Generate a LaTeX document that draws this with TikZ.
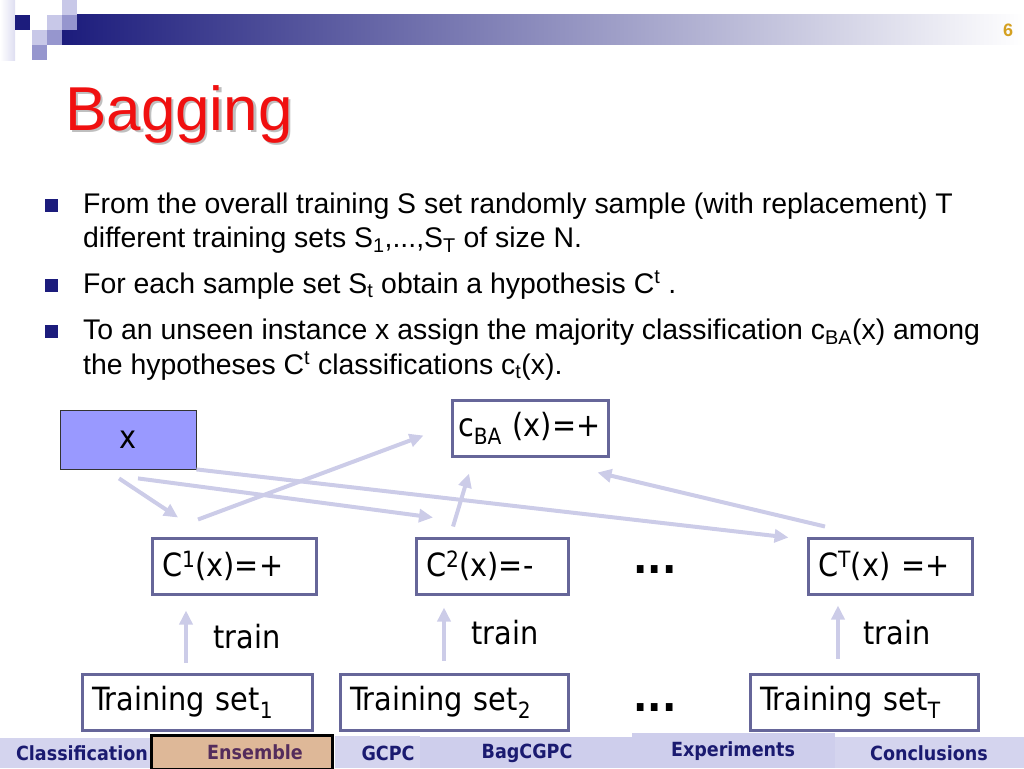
\documentclass[tikz,border=0pt]{standalone}
\usepackage{fontspec}
\setmainfont{Liberation Sans}
\newfontfamily\tahoma{DejaVu Sans Condensed}
\usetikzlibrary{arrows.meta}
\definecolor{topnavy}{RGB}{28,28,124}
\definecolor{sqlight}{RGB}{200,200,232}
\definecolor{sqmid}{RGB}{150,150,206}
\definecolor{titlered}{RGB}{240,16,16}
\definecolor{boxline}{RGB}{102,102,153}
\definecolor{xfill}{RGB}{153,153,255}
\definecolor{arrowcol}{RGB}{204,204,232}
\definecolor{navtext}{RGB}{26,26,112}
\definecolor{navbg}{RGB}{212,212,238}
\definecolor{navbgB}{RGB}{206,206,236}
\definecolor{enscol}{RGB}{222,184,152}
\definecolor{enstext}{RGB}{84,44,92}
\definecolor{pagecol}{RGB}{212,160,32}
\tikzset{
  body/.style={font=\fontsize{28.4}{32}\selectfont,anchor=base west,inner sep=0pt},
  res/.style={draw=boxline,line width=3pt,fill=white,minimum height=56pt,inner xsep=10pt,inner ysep=0pt,align=left,font=\tahoma\fontsize{32}{36}\selectfont},
  xin/.style={draw=black!80,line width=0.8pt,fill=xfill,minimum width=136pt,minimum height=59pt,font=\tahoma\fontsize{32}{36}\selectfont},
  lbl/.style={font=\tahoma\fontsize{32}{36}\selectfont,inner sep=0pt},
  dots/.style={font=\tahoma\bfseries\fontsize{42}{42}\selectfont,inner sep=0pt},
  vote/.style={draw=arrowcol,line width=4pt,-{Triangle[length=14pt,width=13pt]}},
  tab/.style={font=\tahoma\bfseries\fontsize{19.5}{22}\selectfont,text=navtext,inner sep=0pt},
  bul/.style={fill=topnavy,minimum size=13pt,inner sep=0pt},
}
\begin{document}
\begin{tikzpicture}[x=1pt,y=-1pt]
  \useasboundingbox (0,0) rectangle (1024,768);
  \shade[left color=white,right color=sqlight!60] (0,0) rectangle (15,60);
  \shade[left color=topnavy,right color=white] (62,15) rectangle (1024,45);
  \fill[sqlight] (62,0) rectangle (77,15);
  \fill[topnavy] (15,15) rectangle (30,30);
  \fill[sqlight] (47,15) rectangle (62,30);
  \fill[sqmid] (62,15) rectangle (77,30);
  \fill[sqlight] (32,30) rectangle (47,45);
  \fill[sqmid] (47,30) rectangle (62,45);
  \fill[sqmid] (32,45) rectangle (47,60);
  \node[font=\bfseries\fontsize{18}{20}\selectfont,text=pagecol] (pgno) at (1008,30) {6};
  \node[font=\fontsize{62}{66}\selectfont,text=gray!50,anchor=base west,inner sep=0pt] (titleshadow) at (67.5,132.5) {Bagging};
  \node[font=\fontsize{62}{66}\selectfont,text=titlered,anchor=base west,inner sep=0pt] (title) at (65,130) {Bagging};
  \node[bul] (b1) at (51,205) {};
  \node[bul] (b2) at (51,285) {};
  \node[bul] (b3) at (51,331) {};
  \node[body] (l1) at (83,213) {From the overall training S set randomly sample (with replacement) T};
  \node[body] (l2) at (83,247) {different training sets S\textsubscript{1},...,S\textsubscript{T} of size N.};
  \node[body] (l3) at (83,293) {For each sample set S\textsubscript{t} obtain a hypothesis C\textsuperscript{t} .};
  \node[body] (l4) at (83,339) {To an unseen instance x assign the majority classification c\textsubscript{BA}(x) among};
  \node[body] (l5) at (83,374) {the hypotheses C\textsuperscript{t} classifications c\textsubscript{t}(x).};
  \node[xin] (xbox) at (128,439.5) {x};
  \node[res,text width=144pt,inner xsep=6pt] (cba) at (530,428) {c\textsubscript{BA} (x)=+};
  \node[res,text width=144pt] (c1) at (234,566) {C\textsuperscript{1}(x)=+};
  \node[res,text width=132pt] (c2) at (492,566) {C\textsuperscript{2}(x)=-};
  \node[res,text width=144pt] (cT) at (890,566) {C\textsuperscript{T}(x) =+};
  \node[dots] (dotsC) at (655,570) {...};
  \node[res,text width=210pt] (ts1) at (197,702) {Training set\textsubscript{1}};
  \node[res,text width=208pt] (ts2) at (454,702) {Training set\textsubscript{2}};
  \node[res,text width=208pt] (tsT) at (864,702) {Training set\textsubscript{T}};
  \node[dots] (dotsT) at (655,708) {...};
  \node[lbl] (tr1) at (247,637) {train};
  \node[lbl] (tr2) at (505,633) {train};
  \node[lbl] (trT) at (897,633) {train};
  \draw[vote] ([shift={(-9,9)}]xbox.south) -- ([shift={(-56,-19)}]c1.north);
  \draw[vote] ([shift={(10,9)}]xbox.south) -- ([shift={(-59,-19)}]c2.north);
  \draw[vote] (xbox.south east) -- ([shift={(-18,1)}]cT.north west);
  \draw[vote] ([shift={(-36,-17)}]c1.north) -- ([shift={(-27,-22)}]cba.south west);
  \draw[vote] ([shift={(-39,-10)}]c2.north) -- ([shift={(-61,16)}]cba.south);
  \draw[vote] ([shift={(-65,-10)}]cT.north) -- ([shift={(-12,15)}]cba.south east);
  \draw[vote] ([shift={(-11,-10)}]ts1.north) -- ([shift={(-48,15)}]c1.south);
  \draw[vote] ([shift={(-10,-12)}]ts2.north) -- ([shift={(-48,12)}]c2.south);
  \draw[vote] ([shift={(-26,-14)}]tsT.north) -- ([shift={(-52,10)}]cT.south);
  \fill[navbg] (0,738) rectangle (150,768);
  \fill[navbg] (335,736) rectangle (420,768);
  \fill[navbgB] (420,737) rectangle (632,768);
  \fill[navbgB] (632,733) rectangle (835,768);
  \fill[navbg] (835,737) rectangle (1024,768);
  \node[tab] (navcls) at (82,753) {Classification};
  \filldraw[fill=enscol,draw=black,line width=3pt] (151.5,735.5) rectangle (332.5,769);
  \node[tab,text=enstext] (navens) at (255,752) {Ensemble};
  \node[tab] (navgcpc) at (388,753) {GCPC};
  \node[tab] (navbag) at (527,753) {BagCGPC};
  \node[tab] (navexp) at (733,751) {Experiments};
  \node[tab] (navcon) at (929,753) {Conclusions};
\end{tikzpicture}
\end{document}
